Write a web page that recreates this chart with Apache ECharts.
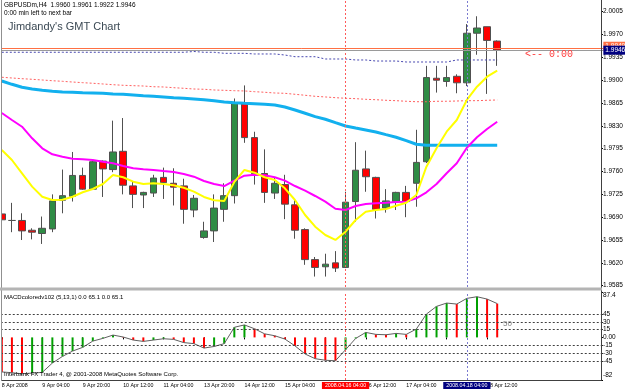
<!DOCTYPE html>
<html><head><meta charset="utf-8">
<script src="https://cdn.jsdelivr.net/npm/echarts@6/dist/echarts.min.js"></script>
<style>html,body{margin:0;padding:0;background:#fff}#c{width:625px;height:391px}</style>
</head><body><div id="c"></div>
<script>
// ---- data (GBPUSDm, H4) ----
const opens  = [1.9695,1.9685,1.9685,1.9670,1.9665,1.9672,1.9716,1.9722,1.9754,1.9733,1.9776,1.9763,1.9791,1.9738,1.9724,1.9727,1.9751,1.9742,1.9738,1.9701,1.9659,1.9669,1.9702,1.9723,1.9865,1.9812,1.9757,1.9727,1.9740,1.9709,1.9671,1.9625,1.9614,1.9620,1.9613,1.9714,1.9764,1.9751,1.9704,1.9714,1.9728,1.9742,1.9775,1.9903,1.9898,1.9906,1.9896,1.9972,1.9982,1.9960];
const highs  = [1.9704,1.9712,1.9696,1.9673,1.9691,1.9725,1.9763,1.9790,1.9766,1.9776,1.9777,1.9838,1.9842,1.9745,1.9729,1.9755,1.9766,1.9765,1.9749,1.9724,1.9683,1.9725,1.9742,1.9872,1.9892,1.9821,1.9794,1.9750,1.9755,1.9717,1.9673,1.9629,1.9634,1.9638,1.9729,1.9805,1.9792,1.9752,1.9733,1.9729,1.9738,1.9824,1.9922,1.9922,1.9922,1.9909,1.9986,1.9998,1.9982,1.9961];
const lows   = [1.9663,1.9667,1.9655,1.9656,1.9649,1.9667,1.9696,1.9714,1.9732,1.9732,1.9721,1.9759,1.9725,1.9704,1.9704,1.9721,1.9718,1.9708,1.9680,1.9690,1.9657,1.9652,1.9683,1.9711,1.9804,1.9740,1.9712,1.9718,1.9687,1.9657,1.9617,1.9599,1.9599,1.9606,1.9612,1.9683,1.9729,1.9688,1.9697,1.9701,1.9690,1.9706,1.9773,1.9881,1.9890,1.9880,1.9891,1.9939,1.9879,1.9922];
const closes = [1.9686,1.9685,1.9669,1.9667,1.9673,1.9715,1.9723,1.9754,1.9733,1.9775,1.9764,1.9790,1.9739,1.9725,1.9728,1.9750,1.9743,1.9736,1.9702,1.9719,1.9669,1.9704,1.9723,1.9865,1.9812,1.9757,1.9728,1.9742,1.9710,1.9670,1.9625,1.9613,1.9618,1.9612,1.9713,1.9762,1.9752,1.9702,1.9715,1.9728,1.9714,1.9774,1.9904,1.9900,1.9904,1.9896,1.9972,1.9980,1.9961,1.9946];

const yellowMA  = [1.97930,1.97777,1.97573,1.97368,1.97214,1.97164,1.97168,1.97214,1.97282,1.97332,1.97409,1.97547,1.97512,1.97444,1.97409,1.97420,1.97409,1.97389,1.97352,1.97291,1.97210,1.97159,1.97148,1.97440,1.97624,1.97582,1.97512,1.97470,1.97343,1.97164,1.96934,1.96754,1.96627,1.96551,1.96678,1.96857,1.96984,1.97010,1.97026,1.97076,1.97122,1.97240,1.97674,1.97956,1.98211,1.98390,1.98697,1.98900,1.99054,1.99146];
const magentaMA = [1.98497,1.98390,1.98287,1.98109,1.97956,1.97864,1.97827,1.97797,1.97788,1.97777,1.97751,1.97726,1.97685,1.97650,1.97634,1.97624,1.97608,1.97593,1.97562,1.97521,1.97455,1.97409,1.97378,1.97460,1.97536,1.97552,1.97542,1.97512,1.97460,1.97378,1.97306,1.97225,1.97138,1.97030,1.97010,1.97072,1.97102,1.97113,1.97122,1.97133,1.97138,1.97190,1.97282,1.97409,1.97573,1.97726,1.97965,1.98125,1.98252,1.98364];
const cyanMA    = [1.98988,1.98937,1.98891,1.98865,1.98845,1.98830,1.98819,1.98815,1.98808,1.98804,1.98799,1.98789,1.98784,1.98773,1.98762,1.98753,1.98743,1.98732,1.98723,1.98712,1.98701,1.98686,1.98666,1.98655,1.98646,1.98640,1.98631,1.98620,1.98589,1.98543,1.98493,1.98441,1.98401,1.98349,1.98298,1.98267,1.98237,1.98206,1.98165,1.98125,1.98073,1.98018,1.98002,1.98002,1.98002,1.98002,1.98002,1.98002,1.98002,1.98002];
const redDotMA  = [1.99045,1.99034,1.99023,1.99014,1.99003,1.98992,1.98983,1.98972,1.98962,1.98953,1.98942,1.98931,1.98922,1.98916,1.98911,1.98900,1.98896,1.98885,1.98876,1.98865,1.98861,1.98850,1.98845,1.98839,1.98835,1.98824,1.98815,1.98804,1.98799,1.98784,1.98769,1.98753,1.98743,1.98732,1.98723,1.98717,1.98707,1.98701,1.98692,1.98686,1.98677,1.98670,1.98670,1.98677,1.98677,1.98681,1.98686,1.98686,1.98692,1.98697];
const navyDotMA = [1.99428,1.99428,1.99428,1.99428,1.99428,1.99428,1.99428,1.99428,1.99428,1.99428,1.99428,1.99428,1.99428,1.99428,1.99428,1.99428,1.99428,1.99428,1.99428,1.99440,1.99428,1.99428,1.99412,1.99412,1.99412,1.99402,1.99402,1.99402,1.99386,1.99360,1.99360,1.99360,1.99325,1.99325,1.99325,1.99310,1.99310,1.99294,1.99294,1.99294,1.99279,1.99279,1.99279,1.99279,1.99279,1.99310,1.99310,1.99310,1.99310,1.99310];

const macdHist = [-66.5,-68,-70,-68.7,-67.4,-49.4,-36.6,-26.3,-19.2,-7.1,-1.9,4.5,0.8,-5.1,-7.7,-5.1,-2.6,-3.8,-10,-12,-20.5,-17.5,-12,19.5,24,16.6,6.8,3.2,-3.2,-16.3,-32,-41,-44,-45,-23.7,-2,9.6,5.8,5.1,7.7,5.8,16,44.9,59.7,66.1,64.2,75.1,78.3,73.8,65.1];
const macdLevels = [45,30,15,-15,-30,-45];

const timeTickLabels = ['8 Apr 2008','9 Apr 04:00','9 Apr 20:00','10 Apr 12:00','11 Apr 04:00','13 Apr 20:00','14 Apr 12:00','15 Apr 04:00','15 Apr 20:00','16 Apr 12:00','17 Apr 04:00','17 Apr 20:00','18 Apr 12:00'];
const priceTicks = [2.0005,1.9970,1.9935,1.9900,1.9865,1.9830,1.9795,1.9760,1.9725,1.9690,1.9655,1.9620,1.9585];
const macdTicks = [87.4,45,30,15,0,-15,-30,-45,-82];
const askLevel = 1.9949, bidLevel = 1.9946;
const markedBars = [34, 46];
const markedLabels = ['2008.04.16 04:00','2008.04.18 04:00'];

// ---- chart ----
const FONT = 'Liberation Sans';
const NSLOT = 60;
const cats = Array.from({length: NSLOT}, (_, i) => String(i));
const candleData = opens.map((o, i) => [o, closes[i], lows[i], highs[i]]);
const histData = macdHist.map((v, i) => ({value: v, itemStyle: {color: (i > 0 && v > macdHist[i - 1]) ? '#00a000' : '#ff0000'}}));

const gridL = -3.25, gridR = 625 - 603.35;
const chart = echarts.init(document.getElementById('c'), null, {renderer: 'canvas'});

const lineS = (data, color, width, type, extra) => Object.assign({
  type: 'line', xAxisIndex: 0, yAxisIndex: 0, data, showSymbol: false, symbol: 'none',
  lineStyle: {color, width, type: type || 'solid'}, silent: true, animation: false
}, extra || {});

const priceMarks = {silent: true, symbol: ['none', 'none'], animation: false, precision: 6,
  data: [
    {xAxis: String(markedBars[0]), lineStyle: {color: '#ff5a5a', type: [2, 2], width: 1}, label: {show: false}},
    {xAxis: String(markedBars[1]), lineStyle: {color: '#7a7ad0', type: [2, 2], width: 1}, label: {show: false}},
    {yAxis: askLevel, lineStyle: {color: '#ff7043', type: 'solid', width: 1},
     label: {show: true, position: 'end', formatter: askLevel.toFixed(4), backgroundColor: '#ff7043', color: '#fff', fontSize: 6.5, padding: [1, 2, 1, 2], distance: 0, fontFamily: FONT, offset: [0, -2]}},
    {yAxis: bidLevel, lineStyle: {color: '#9a9a9a', type: 'solid', width: 1},
     label: {show: true, position: 'end', formatter: bidLevel.toFixed(4), backgroundColor: '#000080', color: '#fff', fontSize: 6.5, padding: [1, 2, 1, 2], distance: 0, fontFamily: FONT}}
  ]};

const option = {
  animation: false,
  backgroundColor: '#ffffff',
  textStyle: {fontFamily: FONT},
  grid: [
    {left: gridL, right: gridR, top: 1, height: 286, outerBoundsMode: 'none', containLabel: false},
    {left: gridL, right: gridR, top: 292, height: 88, outerBoundsMode: 'none', containLabel: false}
  ],
  xAxis: [
    {type: 'category', gridIndex: 0, data: cats, boundaryGap: true,
     axisLine: {show: false}, axisTick: {show: false}, axisLabel: {show: false}, splitLine: {show: false}},
    {type: 'category', gridIndex: 1, data: cats, boundaryGap: true,
     axisLine: {show: false},
     axisTick: {show: true, alignWithLabel: true, length: 2, interval: (i) => i % 4 === 0 && i < opens.length, lineStyle: {color: '#000'}},
     axisLabel: {show: true, interval: (i) => i % 4 === 0 && i < opens.length, formatter: (v, i) => timeTickLabels[i / 4] || '',
       align: 'left', margin: 3, fontSize: 5.3, color: '#000', fontFamily: FONT},
     splitLine: {show: false}}
  ],
  yAxis: [
    {type: 'value', gridIndex: 0, position: 'right', offset: -2.35, min: 1.9583, max: 2.00214,
     axisLine: {show: false}, splitLine: {show: false},
     axisTick: {show: true, customValues: priceTicks, length: 2, lineStyle: {color: '#000'}},
     axisLabel: {show: true, customValues: priceTicks, formatter: (v) => v.toFixed(4), margin: 2, fontSize: 6.5, color: '#000', fontFamily: FONT}},
    {type: 'value', gridIndex: 1, position: 'right', offset: -2.35, min: -82, max: 87.4,
     axisLine: {show: false}, splitLine: {show: false},
     axisTick: {show: true, customValues: macdTicks, length: 2, lineStyle: {color: '#000'}},
     axisLabel: {show: true, customValues: macdTicks, margin: 2, fontSize: 6.5, color: '#000', fontFamily: FONT,
       formatter: (v) => v === macdTicks[0] ? '{t|' + v + '}' : (v === macdTicks[macdTicks.length - 1] ? '{b|' + v + '}' : (v === 0 ? '0.00' : String(v))),
       rich: {t: {fontSize: 6.5, padding: [7, 0, 0, 0], color: '#000'}, b: {fontSize: 6.5, padding: [0, 0, 9, 0], color: '#000'}}}}
  ],
  series: [
    {type: 'candlestick', xAxisIndex: 0, yAxisIndex: 0, data: candleData, barWidth: 7, silent: true,
     itemStyle: {color: '#2f8c45', color0: '#ff0000', borderColor: '#505050', borderColor0: '#505050', borderWidth: 1}},
    lineS(navyDotMA, '#4848b0', 1, [2, 2], {markLine: priceMarks}),
    lineS(redDotMA, '#ff6060', 1, [2, 2]),
    lineS(cyanMA, '#12b0ee', 3),
    lineS(magentaMA, '#ff00ff', 2),
    lineS(yellowMA, '#ffff00', 2),
    {type: 'bar', xAxisIndex: 1, yAxisIndex: 1, data: histData, barWidth: 2, silent: true,
     markLine: {silent: true, symbol: ['none', 'none'], animation: false, precision: 4,
       data: macdLevels.map(v => ({yAxis: v, lineStyle: {color: '#404040', type: [2, 2], width: 1}, label: {show: false}})).concat([
         {xAxis: String(markedBars[0]), lineStyle: {color: '#ff5a5a', type: [2, 2], width: 1},
          label: {show: true, position: 'start', formatter: markedLabels[0], backgroundColor: '#ff0000', color: '#fff', fontSize: 5.3, padding: [1, 3, 1, 3], distance: 2, fontFamily: FONT}},
         {xAxis: String(markedBars[1]), lineStyle: {color: '#7a7ad0', type: [2, 2], width: 1},
          label: {show: true, position: 'start', formatter: markedLabels[1], backgroundColor: '#000080', color: '#fff', fontSize: 5.3, padding: [1, 3, 1, 3], distance: 2, fontFamily: FONT}}
       ])}},
    {type: 'line', xAxisIndex: 1, yAxisIndex: 1, data: macdHist, showSymbol: false, symbol: 'none', silent: true,
     lineStyle: {color: '#606060', width: 1}}
  ],
  graphic: [
    {type: 'rect', shape: {x: 0, y: 0, width: 1.5, height: 391}, style: {fill: '#fff'}, z: 100},
    {type: 'line', shape: {x1: 1.5, y1: 0, x2: 1.5, y2: 380.5}, style: {stroke: '#909090', lineWidth: 1}, z: 101},
    {type: 'line', shape: {x1: 601.5, y1: 0, x2: 601.5, y2: 380.5}, style: {stroke: '#404040', lineWidth: 1}, z: 101},
    {type: 'line', shape: {x1: 1.5, y1: 380.5, x2: 601.5, y2: 380.5}, style: {stroke: '#404040', lineWidth: 1}, z: 101},
    {type: 'rect', shape: {x: 0, y: 287.5, width: 602, height: 3}, style: {fill: '#b4b4b4'}, z: 101},
    {type: 'text', x: 4, y: 5.5, style: {text: 'GBPUSDm,H4  1.9960 1.9961 1.9922 1.9946', fontSize: 6.5, fontFamily: FONT, fill: '#000', verticalAlign: 'middle'}, z: 102},
    {type: 'text', x: 4, y: 13, style: {text: '0:00 min left to next bar', fontSize: 6.5, fontFamily: FONT, fill: '#000', verticalAlign: 'middle'}, z: 102},
    {type: 'text', x: 8, y: 26.5, style: {text: "Jimdandy's GMT Chart", fontSize: 11, fontFamily: FONT, fill: '#3b4954', verticalAlign: 'middle'}, z: 102},
    {type: 'text', x: 525, y: 54, style: {text: '<-- 0:00', fontSize: 10, fontFamily: 'Liberation Mono', fill: '#ff3c3c', verticalAlign: 'middle'}, z: 102},
    {type: 'text', x: 4, y: 297.5, style: {text: 'MACDcoloredv102 (5,13,1) 0.0 65.1 0.0 65.1', fontSize: 6, fontFamily: FONT, fill: '#000', verticalAlign: 'middle'}, z: 102},
    {type: 'text', x: 4, y: 374.5, style: {text: 'Interbank FX Trader 4, @ 2001-2008 MetaQuotes Software Corp.', fontSize: 6, fontFamily: FONT, fill: '#000', verticalAlign: 'middle'}, z: 102},
    {type: 'text', x: 503, y: 324, style: {text: '50', fontSize: 8, fontFamily: FONT, fill: '#808080', verticalAlign: 'middle'}, z: 102}
  ]
};
chart.setOption(option);
</script></body></html>
